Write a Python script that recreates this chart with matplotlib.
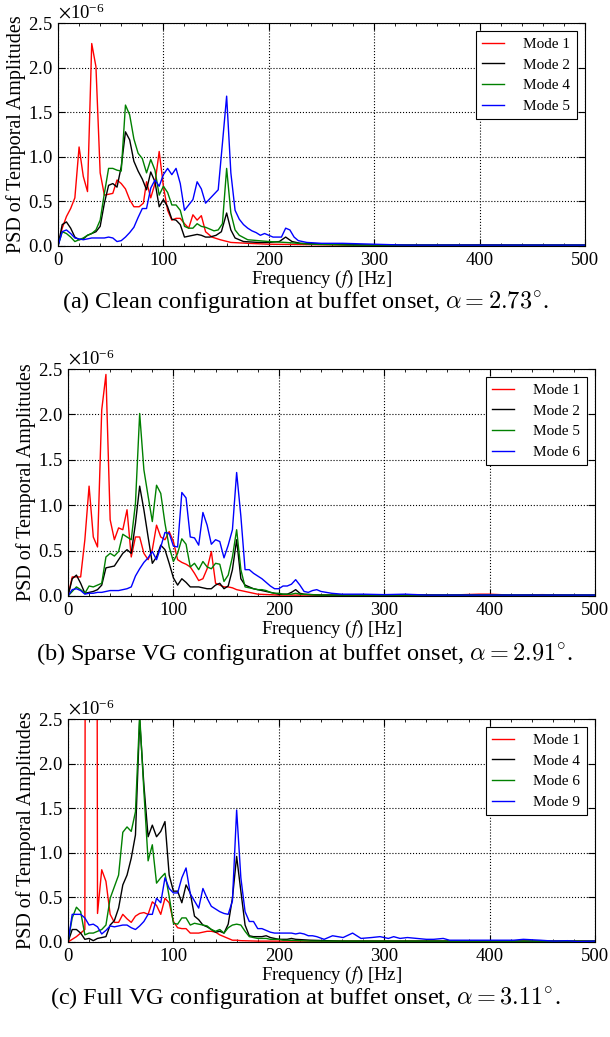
import matplotlib
matplotlib.use("Agg")
import matplotlib.pyplot as plt
from matplotlib.ticker import MultipleLocator, ScalarFormatter

# PSD der zeitlichen Amplituden, Werte in 1e-6

# (a) clean
a_f1 = [0,4,8,12,16,20,24,28,32,36,40,44,48,52,56,60,64,68,72,77,81,84,88,92,96,100,104,108,112,116,
        120,124,128,132,136,140,146,154,164,180,200,240,280,320,360,400,440,480,500]
a_m1 = [0,0.20,0.33,0.42,0.54,1.11,0.78,0.61,2.27,2.01,0.82,0.57,0.58,0.59,0.74,0.70,0.64,0.52,0.44,0.44,
        0.48,0.72,0.54,0.70,1.06,0.67,0.40,0.29,0.31,0.31,0.25,0.20,0.35,0.29,0.34,0.16,0.10,0.07,0.04,0.03,
        0.02,0.015,0.01,0.01,0.01,0.015,0.01,0.01,0.01]
a_f2 = [0,4,8,12,16,20,24,28,32,36,40,44,48,52,56,60,64,68,72,76,80,84,88,92,96,100,104,108,112,116,
        120,124,128,132,136,140,144,150,155,160,164,168,176,190,200,210,216,222,230,260,300,350,400,450,500]
a_m2 = [0,0.24,0.27,0.20,0.10,0.07,0.08,0.12,0.14,0.16,0.22,0.48,0.68,0.70,0.66,0.89,1.28,1.19,0.95,0.84,
        0.75,0.63,0.83,0.72,0.44,0.52,0.44,0.30,0.29,0.24,0.10,0.11,0.12,0.13,0.12,0.10,
        0.10,0.12,0.16,0.37,0.18,0.09,0.05,0.04,0.04,0.05,0.10,0.05,0.03,0.02,0.01,0.01,0.01,0.01,0.01]
a_f4 = [0,4,8,12,16,20,24,28,32,36,40,44,48,52,56,60,64,68,72,76,80,84,88,92,96,100,104,108,112,116,
        120,124,128,132,136,140,144,148,152,156,160,164,168,172,180,200,216,240,280,320,360,400,450,500]
a_m4 = [0,0.16,0.14,0.10,0.05,0.07,0.09,0.12,0.14,0.18,0.29,0.59,0.87,0.87,0.85,0.84,1.58,1.47,1.20,1.04,
        0.98,0.82,0.97,0.85,0.57,0.67,0.60,0.46,0.46,0.40,0.22,0.20,0.20,0.25,0.22,0.21,0.19,0.17,0.18,0.25,
        0.87,0.37,0.18,0.12,0.07,0.05,0.04,0.02,0.01,0.01,0.01,0.01,0.01,0.01]
a_f5 = [0,4,8,12,16,20,24,28,32,36,40,44,48,52,56,60,64,68,72,76,80,84,88,92,96,100,104,108,112,116,
        120,124,128,132,136,140,144,148,152,156,160,164,168,172,176,180,184,188,192,196,200,204,208,212,216,
        220,224,228,236,250,270,300,330,360,400,450,500]
a_m5 = [0,0.16,0.18,0.14,0.09,0.08,0.07,0.08,0.09,0.09,0.09,0.09,0.10,0.09,0.05,0.06,0.10,0.15,0.21,0.32,
        0.42,0.42,0.65,0.74,0.67,0.80,0.87,0.80,0.87,0.70,0.40,0.46,0.52,0.72,0.64,0.48,0.53,0.58,0.63,1.15,
        1.68,0.82,0.40,0.30,0.24,0.20,0.17,0.15,0.12,0.14,0.12,0.10,0.10,0.10,0.20,0.18,0.10,0.06,0.04,0.03,
        0.03,0.02,0.01,0.01,0.01,0.01,0.01]

# (b) sparse VG
b_f1 = [0,4,8,12,16,20,24,28,32,36,40,44,48,52,56,60,64,68,72,76,80,84,88,92,96,100,104,108,112,116,
        120,124,128,132,136,140,144,148,152,156,160,164,168,172,176,180,
        200,230,260,300,330,360,390,400,420,450,480,500]
b_m1 = [0,0.21,0.21,0.21,0.62,1.21,0.65,0.54,2.05,2.44,0.84,0.62,0.75,0.73,0.95,0.43,0.65,0.65,0.47,0.40,
        0.51,0.78,0.65,0.62,0.71,0.60,0.40,0.37,0.35,0.32,0.25,0.17,0.19,0.30,0.49,0.14,0.12,0.10,0.10,0.09,
        0.07,0.06,0.05,0.04,0.03,0.02,0.01,0.01,0.01,0.01,0.015,0.01,0.02,0.02,0.01,0.015,0.01,0.01]
b_f2 = [0,4,8,12,16,20,24,28,32,36,40,44,48,52,56,60,64,68,72,76,80,84,88,92,96,100,104,108,112,116,
        120,124,128,132,136,140,144,148,152,156,160,164,168,172,176,180,184,188,192,196,200,204,208,212,216,
        220,224,240,260,300,350,400,450,500]
b_m2 = [0,0.19,0.23,0.14,0.03,0.04,0.05,0.07,0.12,0.31,0.32,0.33,0.40,0.47,0.51,0.47,0.80,1.21,0.95,0.65,
        0.36,0.43,0.56,0.51,0.36,0.20,0.12,0.19,0.15,0.10,0.10,0.10,0.09,0.08,0.08,0.12,0.14,0.08,0.11,0.29,
        0.62,0.19,0.12,0.10,0.08,0.07,0.06,0.05,0.04,0.03,0.02,0.02,0.02,0.04,0.07,0.03,0.02,
        0.01,0.01,0.01,0.01,0.01,0.01,0.01]
b_f5 = [0,4,8,12,16,20,24,28,32,36,40,44,48,52,56,60,64,68,72,76,80,84,88,92,96,100,104,108,112,116,
        120,124,128,132,136,140,144,148,152,156,160,164,168,172,176,180,184,188,192,196,200,204,208,212,216,
        220,240,270,300,350,400,450,500]
b_m5 = [0,0.05,0.10,0.07,0.03,0.11,0.10,0.12,0.14,0.43,0.47,0.44,0.49,0.68,0.65,0.62,1.02,2.01,1.39,1.10,
        0.82,1.22,1.13,0.80,0.54,0.38,0.47,0.63,0.57,0.32,0.36,0.29,0.38,0.32,0.30,0.36,0.35,0.16,0.23,0.43,
        0.73,0.29,0.10,0.09,0.08,0.07,0.07,0.06,0.04,0.03,0.03,0.02,0.02,0.02,0.03,0.02,
        0.01,0.01,0.01,0.01,0.01,0.01,0.01]
b_f6 = [0,4,8,12,16,20,24,28,32,36,40,44,48,52,56,60,64,68,72,76,80,84,88,92,96,100,104,108,112,116,
        120,124,128,132,136,140,144,148,152,156,160,164,168,172,176,180,184,188,192,196,200,204,208,212,216,
        220,224,228,232,236,240,250,260,280,300,320,340,360,380,400,420,440,460,480,500]
b_m6 = [0,0.07,0.08,0.06,0.02,0.03,0.03,0.04,0.04,0.05,0.06,0.06,0.06,0.07,0.08,0.10,0.22,0.30,0.37,0.42,
        0.49,0.40,0.54,0.70,0.69,0.55,0.54,1.14,1.08,0.65,0.64,0.56,0.92,0.78,0.57,0.62,0.60,0.42,0.56,0.73,
        1.36,0.88,0.29,0.29,0.25,0.22,0.19,0.15,0.11,0.08,0.08,0.11,0.11,0.13,0.18,0.12,0.05,0.04,0.06,0.07,
        0.05,0.03,0.02,0.02,0.015,0.02,0.01,0.01,0.01,0.01,0.01,0.01,0.01,0.01,0.01]

# (c) full VG
c_f1 = [0,4,8,12,16,20,24,28,32,36,40,44,48,52,56,60,64,68,72,76,80,84,88,92,96,100,104,108,112,116,
        120,124,128,132,136,140,144,148,152,156,160,164,180,200,240,300,350,400,450,500]
c_m1 = [0,0.03,0.06,0.10,0.14,40.0,30.0,0.32,0.81,0.68,0.31,0.22,0.22,0.31,0.26,0.22,0.29,0.32,0.33,0.31,
        0.45,0.41,0.31,0.49,0.44,0.23,0.16,0.15,0.15,0.10,0.10,0.10,0.11,0.12,0.12,0.11,0.08,0.06,0.04,0.02,
        0.02,0.015,0.01,0.01,0.01,0.01,0.01,0.01,0.01,0.01]
c_f4 = [0,4,8,12,16,20,24,28,32,36,40,44,48,52,56,60,64,68,72,76,80,84,88,92,96,100,104,108,112,116,
        120,124,128,132,136,140,144,148,152,156,160,164,168,172,176,180,184,188,192,196,200,204,208,212,216,
        230,260,300,350,400,450,500]
c_m4 = [0,0.14,0.14,0.10,0.03,0.04,0.015,0.04,0.05,0.06,0.19,0.24,0.38,0.64,0.75,0.94,1.20,2.49,1.76,1.18,
        1.31,1.18,1.24,1.35,0.75,0.57,0.57,0.44,0.64,0.55,0.29,0.25,0.19,0.17,0.14,0.11,0.12,0.10,0.20,0.49,
        0.96,0.57,0.19,0.07,0.06,0.06,0.06,0.07,0.05,0.04,0.03,0.03,0.03,0.04,0.03,
        0.02,0.01,0.01,0.01,0.01,0.01,0.01]
c_f6 = [0,4,8,12,16,20,24,28,32,36,40,44,48,52,56,60,64,68,72,76,80,84,88,92,96,100,104,108,112,116,
        120,124,128,132,136,140,144,148,152,156,160,164,168,172,176,180,184,188,192,196,200,204,208,
        230,260,300,350,400,450,500]
c_m6 = [0,0.27,0.39,0.34,0.08,0.10,0.10,0.12,0.14,0.19,0.49,0.62,0.75,1.23,1.29,1.24,1.46,2.55,1.69,0.91,
        1.09,0.66,0.72,0.77,0.51,0.21,0.20,0.27,0.27,0.19,0.21,0.20,0.19,0.18,0.14,0.12,0.14,0.10,0.16,0.19,
        0.20,0.19,0.12,0.06,0.05,0.04,0.04,0.04,0.03,0.03,0.03,0.02,0.02,
        0.01,0.01,0.01,0.01,0.01,0.01,0.01]
c_f9 = [0,4,8,12,16,20,24,28,32,36,40,44,48,52,56,60,64,68,72,76,80,84,88,92,96,100,104,108,112,116,
        120,124,128,132,136,140,144,148,152,156,160,164,168,172,176,180,184,188,192,196,200,204,208,212,216,
        220,224,228,232,236,243,251,261,270,278,288,296,304,309,315,322,331,340,347,356,362,372,381,397,410,
        423,432,448,461,474,483,500]
c_m9 = [0,0.31,0.31,0.31,0.27,0.19,0.20,0.17,0.09,0.13,0.18,0.17,0.18,0.19,0.19,0.16,0.14,0.18,0.23,0.31,
        0.31,0.49,0.44,0.72,0.60,0.55,0.55,0.72,0.83,0.54,0.46,0.38,0.60,0.49,0.40,0.37,0.34,0.32,0.31,0.46,
        1.48,0.72,0.34,0.23,0.23,0.15,0.15,0.13,0.11,0.10,0.10,0.10,0.10,0.10,0.09,0.10,0.09,0.07,0.07,0.06,
        0.03,0.07,0.05,0.10,0.04,0.05,0.06,0.04,0.06,0.04,0.05,0.04,0.03,0.03,0.04,0.02,0.02,0.02,0.02,0.02,
        0.02,0.03,0.02,0.01,0.015,0.005,0.01]

farben = ['red', 'black', 'green', 'blue']

panels = [
    ([a_f1, a_f2, a_f4, a_f5], [a_m1, a_m2, a_m4, a_m5], ['Mode 1', 'Mode 2', 'Mode 4', 'Mode 5'],
     (58, 246, 223), r'(a) Clean configuration at buffet onset, $\alpha = 2.73^{\circ}$.', 303),
    ([b_f1, b_f2, b_f5, b_f6], [b_m1, b_m2, b_m5, b_m6], ['Mode 1', 'Mode 2', 'Mode 5', 'Mode 6'],
     (68, 596, 227), r'(b) Sparse VG configuration at buffet onset, $\alpha = 2.91^{\circ}$.', 655),
    ([c_f1, c_f4, c_f6, c_f9], [c_m1, c_m4, c_m6, c_m9], ['Mode 1', 'Mode 4', 'Mode 6', 'Mode 9'],
     (68, 942, 223), r'(c) Full VG configuration at buffet onset, $\alpha = 3.11^{\circ}$.', 999),
]

plt.rcParams['font.family'] = ['Liberation Serif', 'DejaVu Serif']
plt.rcParams['mathtext.fontset'] = 'stix'
plt.rcParams['xtick.direction'] = 'in'
plt.rcParams['ytick.direction'] = 'in'

W, H = 610, 1037
fig = plt.figure(figsize=(W / 100, H / 100), dpi=100)

for freqs, werte, labels, (left, bottom, height), caption, cap_y in panels:
    ax = fig.add_axes([left / W, 1 - bottom / H, 527 / W, height / H])
    for f, v, lab, c in zip(freqs, werte, labels, farben):
        ax.plot(f, [x * 1e-6 for x in v], color=c, linewidth=1.0, label=lab)
    ax.set_xlim(0, 500)
    ax.set_ylim(0, 2.5e-6)
    ax.xaxis.set_major_locator(MultipleLocator(100))
    ax.xaxis.set_minor_locator(MultipleLocator(20))
    ax.yaxis.set_major_locator(MultipleLocator(0.5e-6))
    fmt = ScalarFormatter(useMathText=True)
    fmt.set_powerlimits((0, 0))
    ax.yaxis.set_major_formatter(fmt)
    ax.tick_params(which='both', top=True, right=True, labelsize=13.5, pad=4)
    ax.tick_params(which='major', length=5, width=0.8)
    ax.tick_params(which='minor', length=2.5, width=0.6)
    ax.yaxis.get_offset_text().set_fontsize(13.5)
    ax.grid(True, which='major', color='black', linestyle=':', linewidth=0.8)
    ax.set_xlabel(r'Frequency ($f$) [Hz]', fontsize=13.5, labelpad=0)
    ax.set_ylabel('PSD of Temporal Amplitudes', fontsize=14.5, labelpad=1)
    leg = ax.legend(loc='upper right', fontsize=11, fancybox=False, framealpha=1,
                    edgecolor='black', handlelength=1.4, handletextpad=1.3, borderaxespad=0.55,
                    labelspacing=0.45)
    leg.get_frame().set_linewidth(0.8)
    fig.text(305 / W, 1 - cap_y / H, caption, ha='center', va='center',
             fontsize=17.5, math_fontfamily='cm')

fig.savefig('out.png', dpi=100)
